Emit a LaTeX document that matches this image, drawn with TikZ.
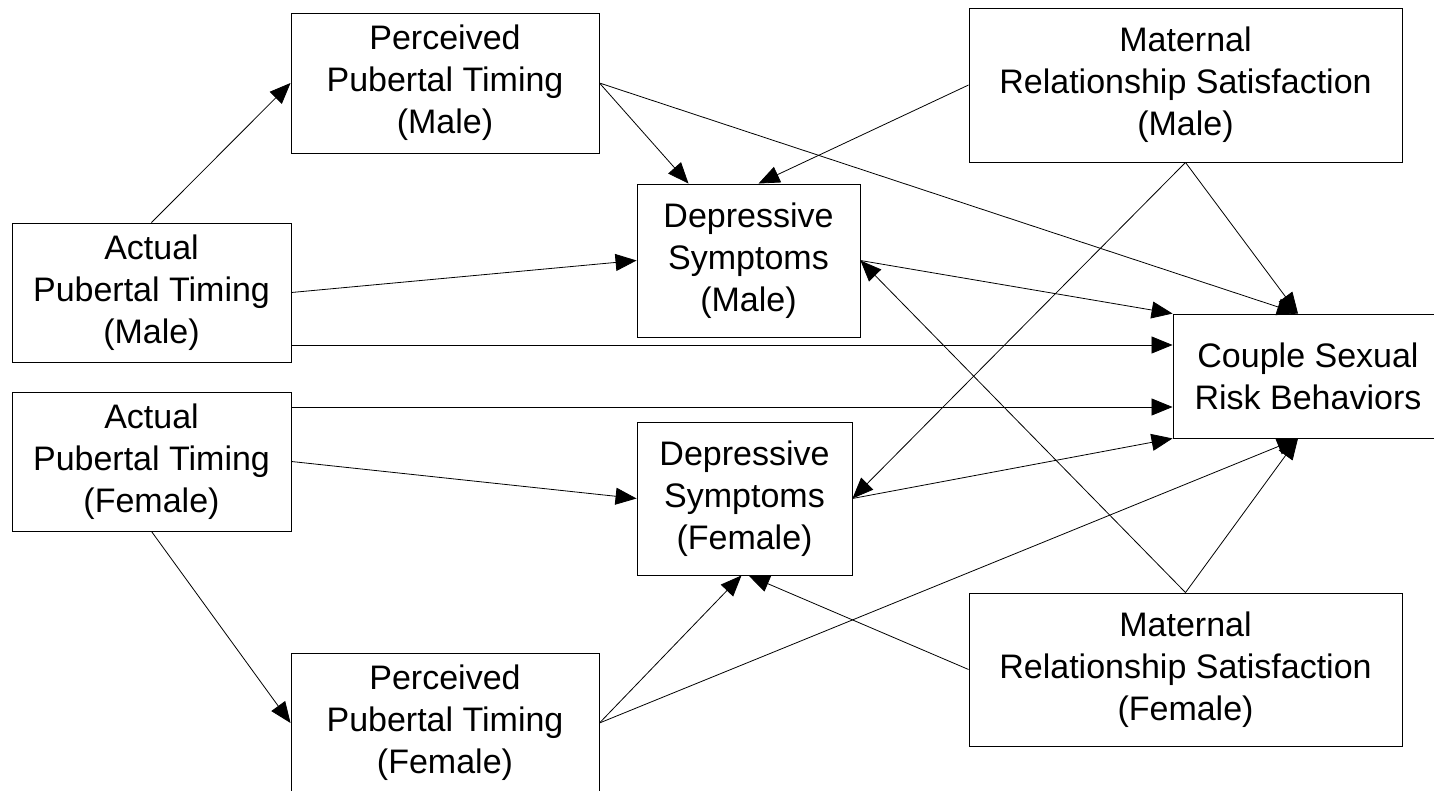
\documentclass[tikz,border=0pt]{standalone}
\usepackage{fontspec}
\setmainfont{Liberation Sans}
\usetikzlibrary{arrows.meta}

\begin{document}
\begin{tikzpicture}[x=1pt, y=-1pt,
    box/.style={draw, line width=0.9pt, inner sep=0pt, align=center, font=\fontsize{34}{42}\selectfont},
    arr/.style={-{Triangle[length=21pt,width=17pt]}, line width=0.8pt}]
    \useasboundingbox (0,0) rectangle (1434,791);
    \node[box, minimum width=279pt, minimum height=139pt] (apm) at (151.5,292.5) {Actual\\Pubertal Timing\\(Male)};
    \node[box, minimum width=279pt, minimum height=139pt] (apf) at (151.5,461.5) {Actual\\Pubertal Timing\\(Female)};
    \node[box, minimum width=308pt, minimum height=140pt] (ppm) at (445,83) {Perceived\\Pubertal Timing\\(Male)};
    \node[box, minimum width=308pt, minimum height=140pt] (ppf) at (445,723) {Perceived\\Pubertal Timing\\(Female)};
    \node[box, minimum width=223pt, minimum height=153pt] (dsm) at (748.5,260.5) {Depressive\\Symptoms\\(Male)};
    \node[box, minimum width=215pt, minimum height=153pt] (dsf) at (744.5,498.5) {Depressive\\Symptoms\\(Female)};
    \node[box, minimum width=433pt, minimum height=154pt] (mrm) at (1185.5,85) {Maternal\\Relationship Satisfaction\\(Male)};
    \node[box, minimum width=433pt, minimum height=153pt] (mrf) at (1185.5,669.5) {Maternal\\Relationship Satisfaction\\(Female)};
    \node[box, minimum width=270pt, minimum height=124pt] (csr) at (1308,376) {Couple Sexual\\Risk Behaviors};
    \coordinate (csrA) at ([yshift=31pt]csr.west);
    \coordinate (csrB) at ([yshift=-31pt]csr.west);

    \draw[arr] (apm.north) -- (ppm.west);
    \draw[arr] (apm.east) -- (dsm.west);
    \draw[arr] (apm.east |- csrA) -- (csrA);
    \draw[arr] (apf.east |- csrB) -- (csrB);
    \draw[arr] (apf.east) -- (dsf.west);
    \draw[arr] (apf.south) -- (ppf.west);
    \draw[arr] (ppm.east) -- ([xshift=-60pt]dsm.north);
    \draw[arr] (ppm.east) -- ([xshift=-10pt]csr.north);
    \draw[arr] (mrm.west) -- ([xshift=10pt]dsm.north);
    \draw[arr] (mrm.south) -- ([xshift=-10pt]csr.north);
    \draw[arr] (mrm.south) -- (dsf.east);
    \draw[arr] (dsm.east) -- (csr.north west);
    \draw[arr] (dsf.east) -- (csr.south west);
    \draw[arr] (ppf.east) -- ([xshift=-3pt]dsf.south);
    \draw[arr] (ppf.east) -- ([xshift=-10pt]csr.south);
    \draw[arr] (mrf.west) -- ([xshift=4pt]dsf.south);
    \draw[arr] (mrf.north) -- (dsm.east);
    \draw[arr] (mrf.north) -- ([xshift=-10pt]csr.south);
\end{tikzpicture}
\end{document}
